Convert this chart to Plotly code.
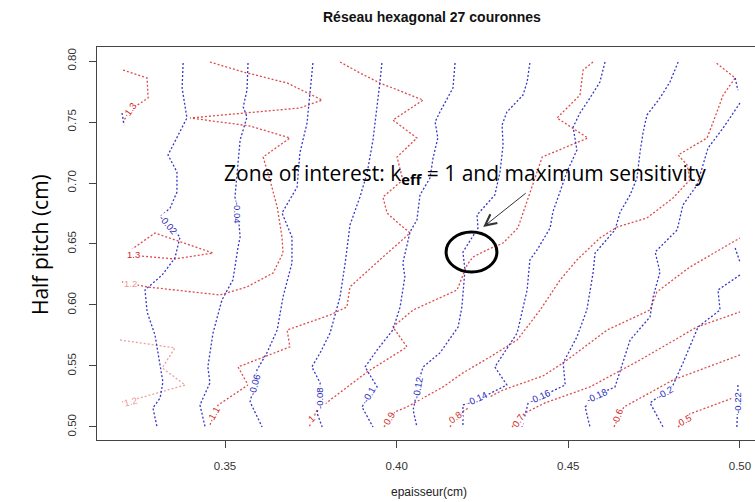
import plotly.graph_objects as go

# ---------------- tick labels ----------------
x_tick_vals = [0.35, 0.40, 0.45, 0.50]
x_tick_labels = ["0.35", "0.40", "0.45", "0.50"]
y_tick_vals = [0.50, 0.55, 0.60, 0.65, 0.70, 0.75, 0.80]
y_tick_labels = ["0.50", "0.55", "0.60", "0.65", "0.70", "0.75", "0.80"]

# ---------------- keff iso-lines (red) ----------------
keff_13a_x = [0.3203, 0.3273, 0.3276, 0.3247, 0.3223, 0.3203]
keff_13a_y = [0.7926, 0.7861, 0.7697, 0.7639, 0.7598, 0.7500]
keff_13b_x = [0.3217, 0.3296, 0.3465, 0.3354, 0.3252, 0.3217]
keff_13b_y = [0.6434, 0.6590, 0.6426, 0.6377, 0.6402, 0.6434]
keff_12a_x = [0.3456, 0.3553, 0.3681, 0.3783, 0.3718, 0.3564, 0.3398, 0.3573, 0.3689, 0.3611,
              0.3631, 0.3652, 0.3666, 0.3669, 0.3640, 0.3564, 0.3485, 0.3273, 0.3200]
keff_12a_y = [0.7992, 0.7910, 0.7820, 0.7680, 0.7615, 0.7574, 0.7533, 0.7467, 0.7369, 0.7213,
              0.7025, 0.6803, 0.6557, 0.6426, 0.6262, 0.6148, 0.6082, 0.6148, 0.6189]
keff_12b_x = [0.3194, 0.3354, 0.3317, 0.3384, 0.3252, 0.3200]
keff_12b_y = [0.5713, 0.5648, 0.5484, 0.5344, 0.5238, 0.5205]
keff_11_x = [0.3835, 0.3893, 0.3951, 0.4077, 0.3989, 0.4059, 0.4001, 0.4018, 0.3960, 0.3972, 0.4001,
             0.4039, 0.3960, 0.3864, 0.3855, 0.3806, 0.3681, 0.3689, 0.3538, 0.3567, 0.3480, 0.3456]
keff_11_y = [0.7992, 0.7902, 0.7820, 0.7680, 0.7516, 0.7369, 0.7213, 0.7025, 0.6885, 0.6754, 0.6680,
             0.6590, 0.6393, 0.6148, 0.5984, 0.5918, 0.5795, 0.5656, 0.5492, 0.5344, 0.5180, 0.5016]
keff_10_x = [0.4572, 0.4543, 0.4534, 0.4467, 0.4557, 0.4424, 0.4394, 0.4368, 0.4353, 0.4310, 0.4263,
             0.4222, 0.4205, 0.4176, 0.4068, 0.4048, 0.3989, 0.4030, 0.3914, 0.3806, 0.3768, 0.3745]
keff_10_y = [0.7992, 0.7926, 0.7721, 0.7533, 0.7369, 0.7213, 0.6967, 0.6754, 0.6631, 0.6508, 0.6451,
             0.6393, 0.6328, 0.6123, 0.5984, 0.5959, 0.5820, 0.5656, 0.5451, 0.5221, 0.5139, 0.5000]
keff_09_x = [0.3963, 0.3995, 0.4030, 0.4068, 0.4135, 0.4193, 0.4272, 0.4351, 0.4418, 0.4476, 0.4525, 0.4592,
             0.4642, 0.4729, 0.4805, 0.4854, 0.4846, 0.4820, 0.4904, 0.4922, 0.4951, 0.4986, 0.4927]
keff_09_y = [0.5000, 0.5123, 0.5164, 0.5221, 0.5328, 0.5443, 0.5574, 0.5713, 0.5959, 0.6205, 0.6369, 0.6549,
             0.6639, 0.6713, 0.6877, 0.7025, 0.7148, 0.7230, 0.7369, 0.7500, 0.7721, 0.7861, 0.7992]
keff_08_x = [0.4155, 0.4190, 0.4214, 0.4310, 0.4426, 0.4485, 0.4613, 0.4738, 0.4758, 0.4854, 0.5000]
keff_08_y = [0.5000, 0.5123, 0.5164, 0.5303, 0.5418, 0.5525, 0.5795, 0.5959, 0.6107, 0.6311, 0.6549]
keff_07_x = [0.4336, 0.4374, 0.4432, 0.4563, 0.4709, 0.4875, 0.5000]
keff_07_y = [0.5000, 0.5115, 0.5197, 0.5328, 0.5549, 0.5820, 0.5943]
keff_06_x = [0.4633, 0.4662, 0.4689, 0.4805, 0.5000]
keff_06_y = [0.5000, 0.5164, 0.5205, 0.5385, 0.5590]
keff_05_x = [0.4820, 0.4854, 0.4980, 0.5000]
keff_05_y = [0.5000, 0.5107, 0.5238, 0.5262]

keff_label_text = ["1.3", "1.3", "1.2", "1.2", "1.1", "1", "0.9", "0.8", "0.7", "0.6", "0.5"]
keff_label_x = [0.3226, 0.3232, 0.3226, 0.3226, 0.3468, 0.3753, 0.3978, 0.4170, 0.4353, 0.4645, 0.4837]
keff_label_y = [0.7607, 0.6410, 0.6180, 0.5205, 0.5107, 0.5066, 0.5066, 0.5074, 0.5057, 0.5090, 0.5057]
keff_label_angle = [-55, 0, 0, -15, -60, -45, -60, -35, -55, -70, -30]
keff_label_faded = [False, False, True, True, False, False, False, False, False, False, False]

# ---------------- sensitivity iso-lines (blue) ----------------
sens_002_x = [0.3378, 0.3375, 0.3389, 0.3369, 0.3334, 0.3360, 0.3360, 0.3340, 0.3311, 0.3340, 0.3369,
              0.3354, 0.3317, 0.3267, 0.3273, 0.3296, 0.3311, 0.3319, 0.3311, 0.3290, 0.3302]
sens_002_y = [0.7984, 0.7779, 0.7533, 0.7418, 0.7230, 0.7090, 0.6926, 0.6795, 0.6721, 0.6639, 0.6557,
              0.6385, 0.6246, 0.6123, 0.5943, 0.5754, 0.5508, 0.5369, 0.5238, 0.5156, 0.5000]
sens_004_x = [0.3567, 0.3564, 0.3553, 0.3564, 0.3544, 0.3535, 0.3529, 0.3538, 0.3544, 0.3538, 0.3523,
              0.3491, 0.3465, 0.3450, 0.3456, 0.3427, 0.3442]
sens_004_y = [0.7984, 0.7762, 0.7623, 0.7541, 0.7352, 0.7082, 0.6885, 0.6754, 0.6557, 0.6475, 0.6205,
              0.6041, 0.5770, 0.5492, 0.5361, 0.5180, 0.5000]
sens_006_x = [0.3756, 0.3748, 0.3739, 0.3718, 0.3710, 0.3666, 0.3695, 0.3695, 0.3669, 0.3652, 0.3622,
              0.3593, 0.3587, 0.3573, 0.3608]
sens_006_y = [0.7984, 0.7762, 0.7492, 0.7246, 0.6967, 0.6754, 0.6557, 0.6344, 0.6066, 0.5795, 0.5607,
              0.5467, 0.5361, 0.5205, 0.5000]
sens_008_x = [0.3957, 0.3951, 0.3931, 0.3914, 0.3893, 0.3864, 0.3850, 0.3835, 0.3806, 0.3777, 0.3753,
              0.3777, 0.3777, 0.3768, 0.3783]
sens_008_y = [0.7984, 0.7820, 0.7352, 0.7082, 0.6885, 0.6656, 0.6344, 0.6066, 0.5770, 0.5607, 0.5492,
              0.5361, 0.5221, 0.5115, 0.5000]
sens_010_x = [0.4170, 0.4164, 0.4126, 0.4112, 0.4120, 0.4106, 0.4097, 0.4068, 0.4059, 0.4039, 0.4018,
              0.4024, 0.4010, 0.3989, 0.3943, 0.3908, 0.3943, 0.3922, 0.3899, 0.3931]
sens_010_y = [0.7984, 0.7779, 0.7582, 0.7500, 0.7369, 0.7205, 0.7041, 0.6902, 0.6697, 0.6598, 0.6344,
              0.6230, 0.5984, 0.5795, 0.5631, 0.5492, 0.5328, 0.5262, 0.5164, 0.5000]
sens_012_x = [0.4388, 0.4380, 0.4368, 0.4321, 0.4307, 0.4310, 0.4301, 0.4286, 0.4234, 0.4237, 0.4193,
              0.4199, 0.4190, 0.4179, 0.4126, 0.4077, 0.4068, 0.4062, 0.4048, 0.4059]
sens_012_y = [0.7984, 0.7828, 0.7721, 0.7582, 0.7475, 0.7311, 0.7090, 0.6902, 0.6738, 0.6631, 0.6434,
              0.6287, 0.5984, 0.5820, 0.5607, 0.5492, 0.5410, 0.5328, 0.5139, 0.5000]
sens_014_x = [0.4607, 0.4592, 0.4563, 0.4534, 0.4514, 0.4525, 0.4496, 0.4476, 0.4455, 0.4447, 0.4409,
              0.4388, 0.4380, 0.4351, 0.4286, 0.4321, 0.4234, 0.4193, 0.4193]
sens_014_y = [0.7992, 0.7828, 0.7697, 0.7574, 0.7459, 0.7270, 0.7090, 0.6926, 0.6762, 0.6631, 0.6451,
              0.6369, 0.6123, 0.5770, 0.5492, 0.5344, 0.5221, 0.5180, 0.5000]
sens_016_x = [0.4820, 0.4796, 0.4767, 0.4729, 0.4718, 0.4709, 0.4700, 0.4680, 0.4651, 0.4636, 0.4578,
              0.4572, 0.4554, 0.4525, 0.4485, 0.4491, 0.4418, 0.4383, 0.4365]
sens_016_y = [0.7992, 0.7828, 0.7697, 0.7557, 0.7418, 0.7254, 0.7041, 0.6902, 0.6762, 0.6615, 0.6426,
              0.6262, 0.5959, 0.5738, 0.5525, 0.5344, 0.5246, 0.5197, 0.5000]
sens_018_x = [0.5000, 0.4951, 0.4907, 0.4892, 0.4875, 0.4834, 0.4817, 0.4753, 0.4767, 0.4747, 0.4738,
              0.4680, 0.4645, 0.4636, 0.4584, 0.4549, 0.4563]
sens_018_y = [0.7656, 0.7451, 0.7287, 0.7148, 0.6984, 0.6820, 0.6615, 0.6434, 0.6270, 0.6066, 0.5902,
              0.5713, 0.5410, 0.5328, 0.5262, 0.5164, 0.5000]
sens_020_x = [0.5000, 0.4936, 0.4942, 0.4878, 0.4834, 0.4805, 0.4782, 0.4738, 0.4776]
sens_020_y = [0.6246, 0.6123, 0.5959, 0.5820, 0.5525, 0.5344, 0.5287, 0.5197, 0.5000]
sens_020b_x = [0.4986, 0.5000]
sens_020b_y = [0.6467, 0.6352]
sens_020c_x = [0.4986, 0.4994]
sens_020c_y = [0.7861, 0.7762]
sens_002b_x = [0.3200, 0.3206]
sens_002b_y = [0.7574, 0.7475]
sens_022_x = [0.4994, 0.4994, 0.4991]
sens_022_y = [0.5344, 0.5221, 0.5000]

sens_label_text = ["-0.02", "-0.04", "-0.06", "-0.08", "-0.1", "-0.12", "-0.14", "-0.16", "-0.18", "-0.2", "-0.22"]
sens_label_x = [0.3334, 0.3538, 0.3587, 0.3777, 0.3920, 0.4062, 0.4234, 0.4418, 0.4584, 0.4782, 0.4994]
sens_label_y = [0.6656, 0.6754, 0.5344, 0.5238, 0.5262, 0.5320, 0.5230, 0.5246, 0.5254, 0.5279, 0.5197]
sens_label_angle = [50, 90, -75, -90, -60, -80, -25, -25, -25, -30, -90]

# ---------------- styles ----------------
RED = "rgb(222,75,75)"
RED_FADED = "rgb(240,160,160)"
BLUE = "rgb(55,55,200)"
DASH = "2px,2px"

red_lines = [
    (keff_13a_x, keff_13a_y, RED),
    (keff_13b_x, keff_13b_y, RED),
    (keff_12a_x, keff_12a_y, RED),
    (keff_12b_x, keff_12b_y, RED_FADED),
    (keff_11_x, keff_11_y, RED),
    (keff_10_x, keff_10_y, RED),
    (keff_09_x, keff_09_y, RED),
    (keff_08_x, keff_08_y, RED),
    (keff_07_x, keff_07_y, RED),
    (keff_06_x, keff_06_y, RED),
    (keff_05_x, keff_05_y, RED),
]
blue_lines = [
    (sens_002_x, sens_002_y), (sens_002b_x, sens_002b_y), (sens_004_x, sens_004_y),
    (sens_006_x, sens_006_y), (sens_008_x, sens_008_y), (sens_010_x, sens_010_y),
    (sens_012_x, sens_012_y), (sens_014_x, sens_014_y), (sens_016_x, sens_016_y),
    (sens_018_x, sens_018_y), (sens_020_x, sens_020_y), (sens_020b_x, sens_020b_y),
    (sens_020c_x, sens_020c_y), (sens_022_x, sens_022_y),
]

fig = go.Figure()
for xs, ys, col in red_lines:
    fig.add_trace(go.Scatter(x=xs, y=ys, mode="lines",
                             line=dict(color=col, width=1.3, dash=DASH), hoverinfo="skip"))
for xs, ys in blue_lines:
    fig.add_trace(go.Scatter(x=xs, y=ys, mode="lines",
                             line=dict(color=BLUE, width=1.3, dash=DASH), hoverinfo="skip"))

annotations = []
for t, x, y, a, faded in zip(keff_label_text, keff_label_x, keff_label_y, keff_label_angle, keff_label_faded):
    annotations.append(dict(x=x, y=y, xref="x", yref="y", text=t, showarrow=False, textangle=a,
                            xanchor="center", yanchor="middle",
                            font=dict(family="Liberation Sans", size=9.5,
                                      color="rgb(240,150,150)" if faded else "rgb(210,40,40)"),
                            bgcolor="white", borderpad=0))
for t, x, y, a in zip(sens_label_text, sens_label_x, sens_label_y, sens_label_angle):
    annotations.append(dict(x=x, y=y, xref="x", yref="y", text=t, showarrow=False, textangle=a,
                            xanchor="center", yanchor="middle",
                            font=dict(family="Liberation Sans", size=9.5, color="rgb(40,40,190)"),
                            bgcolor="white", borderpad=0))

# titles and callout
annotations += [
    dict(x=0.509, y=1.0763, xref="paper", yref="paper", showarrow=False,
         xanchor="center", yanchor="middle",
         text="<b>Réseau hexagonal 27 couronnes</b>",
         font=dict(family="Liberation Sans", size=14, color="#111")),
    dict(x=0.5046, y=-0.132, xref="paper", yref="paper", showarrow=False,
         xanchor="center", yanchor="middle",
         text="epaisseur(cm)", font=dict(family="Liberation Sans", size=12, color="#222")),
    dict(x=-0.0866, y=0.496, xref="paper", yref="paper", showarrow=False, textangle=-90,
         xanchor="center", yanchor="middle",
         text="Half pitch (cm)", font=dict(family="Open Sans", size=21, color="#000")),
    dict(x=0.19, y=0.677, xref="paper", yref="paper", showarrow=False,
         xanchor="left", yanchor="middle",
         text="Zone of interest: k<sub><b>eff</b></sub> = 1 and maximum sensitivity",
         font=dict(family="Open Sans", size=21, color="#000")),
    dict(x=0.4252, y=0.6639, xref="x", yref="y", text="", showarrow=True,
         ax=44, ay=-35, arrowhead=5, arrowsize=2.2, arrowwidth=1, arrowcolor="#333", standoff=0),
]

fig.add_shape(type="circle", xref="x", yref="y", x0=0.4144, x1=0.4292, y0=0.6270, y1=0.6598,
              line=dict(color="black", width=3))

axis_font = dict(family="Liberation Sans", size=11.5, color="#333")
fig.update_layout(
    width=755, height=502,
    margin=dict(l=97, r=0, t=47, b=62, autoexpand=False),
    plot_bgcolor="white", paper_bgcolor="white",
    showlegend=False,
    annotations=annotations,
    xaxis=dict(range=[0.31271, 0.50438], tickvals=x_tick_vals, ticktext=x_tick_labels,
               ticks="outside", ticklen=7, tickcolor="#444", showline=True, linecolor="#444",
               linewidth=1, mirror=True, showgrid=False, zeroline=False, tickfont=axis_font,
               ticklabelstandoff=8, automargin=False),
    yaxis=dict(range=[0.4893, 0.8115], tickvals=y_tick_vals, ticktext=y_tick_labels,
               ticks="outside", ticklen=7, tickcolor="#444", showline=True, linecolor="#444",
               linewidth=1, mirror=False, showgrid=False, zeroline=False, tickfont=axis_font,
               tickangle=-90, ticklabelstandoff=8, automargin=False),
)

fig.write_html("out.html", config={"displayModeBar": False},
               post_script="document.body.style.margin='0px';document.body.style.overflow='hidden';")
